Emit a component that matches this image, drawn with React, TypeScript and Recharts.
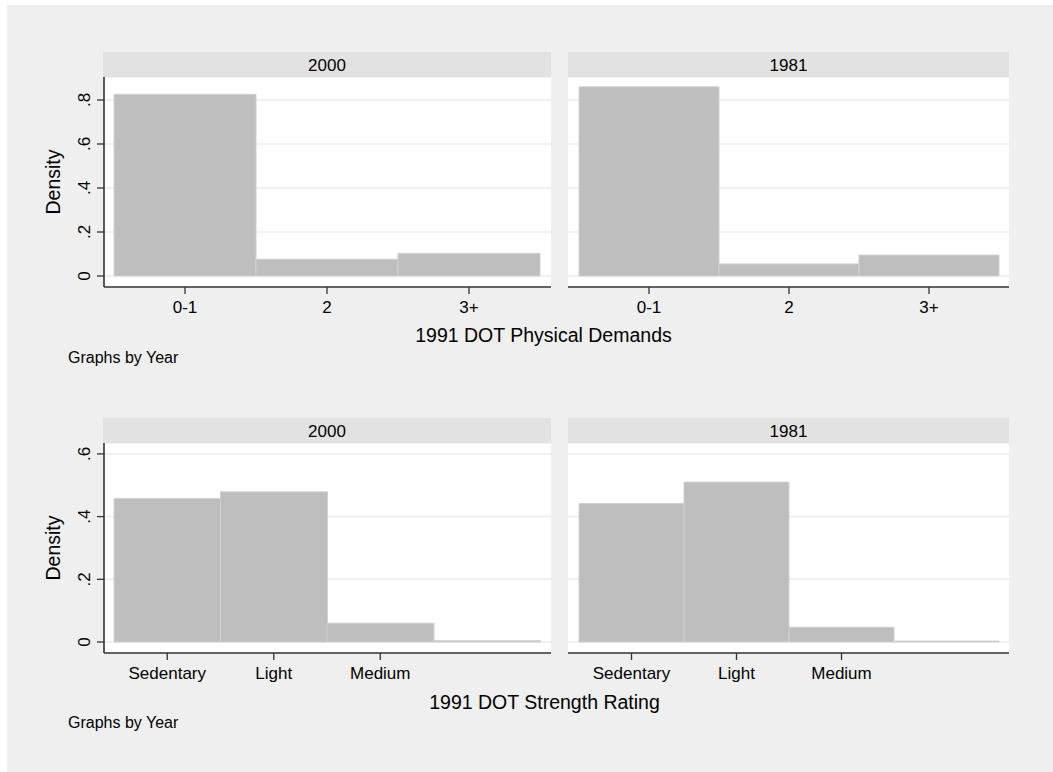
import React from "react";
import { BarChart, Bar, XAxis, YAxis, CartesianGrid } from "recharts";

// ---- data ----
const physCategories = ["0-1", "2", "3+"];
const phys2000 = [0.826, 0.076, 0.103];
const phys1981 = [0.860, 0.055, 0.095];

const strengthCategories = ["Sedentary", "Light", "Medium", ""];
const strength2000 = [0.458, 0.479, 0.060, 0.004];
const strength1981 = [0.442, 0.510, 0.047, 0.003];

const physYTicks = [0, 0.2, 0.4, 0.6, 0.8];
const strengthYTicks = [0, 0.2, 0.4, 0.6];

const panelYears = ["2000", "1981"];
const physTitle = "1991 DOT Physical Demands";
const strengthTitle = "1991 DOT Strength Rating";
const noteText = "Graphs by Year";
const yTitle = "Density";

// ---- style ----
const FONT = "'Liberation Sans', Arial, Helvetica, sans-serif";
const BG = "#efefef";
const STRIP = "#e2e2e2";
const BAR_FILL = "#bebebe";
const BAR_STROKE = "#d0d0d0";
const GRID = "#ececec";
const AXIS = "#333333";

const toRows = (cats: string[], vals: number[]) =>
  cats.map((c, i) => ({ cat: c, density: vals[i] }));

const fmtY = (v: number) => (v === 0 ? "0" : String(v).replace(/^0/, ""));

const XTick = (props: any) => {
  const { x, y, payload } = props;
  if (!payload || !payload.value) return <g />;
  return (
    <g>
      <line x1={x} y1={y - 7} x2={x} y2={y} stroke={AXIS} strokeWidth={1.3} />
      <text
        x={x}
        y={y + 19}
        textAnchor="middle"
        fontSize={17}
        fontFamily={FONT}
        fill="#000"
      >
        {payload.value}
      </text>
    </g>
  );
};

const YTick = (props: any) => {
  const { x, y, payload } = props;
  const bx = x - 7;
  return (
    <g>
      <line x1={x} y1={y} x2={x + 7} y2={y} stroke={AXIS} strokeWidth={1.3} />
      <text
        x={bx}
        y={y}
        transform={`rotate(-90, ${bx}, ${y})`}
        textAnchor="middle"
        fontSize={17}
        fontFamily={FONT}
        fill="#000"
      >
        {fmtY(payload.value)}
      </text>
    </g>
  );
};

type PanelProps = {
  left: number;
  top: number;
  plotWidth: number;
  withYAxis: boolean;
  data: { cat: string; density: number }[];
  domain: [number, number];
  ticks: number[];
  padL: number;
  padR: number;
};

const Panel = ({ left, top, plotWidth, withYAxis, data, domain, ticks, padL, padR }: PanelProps) => {
  const yW = withYAxis ? 50 : 0;
  const plotH = 210;
  const xH = 40;
  return (
    <div style={{ position: "absolute", left: left - yW, top }}>
      <BarChart
        width={yW + plotWidth}
        height={plotH + xH}
        data={data}
        margin={{ top: 0, right: 0, bottom: 0, left: 0 }}
        barCategoryGap={0}
        barGap={0}
      >
        <CartesianGrid
          vertical={false}
          stroke={GRID}
          strokeWidth={1.5}
          fill="#ffffff"
          fillOpacity={1}
        />
        <XAxis
          dataKey="cat"
          type="category"
          height={xH}
          padding={{ left: padL, right: padR }}
          axisLine={{ stroke: AXIS, strokeWidth: 1.6 }}
          tickLine={false}
          tickSize={7}
          tickMargin={0}
          interval={0}
          tick={<XTick />}
        />
        <YAxis
          type="number"
          domain={domain}
          ticks={ticks}
          allowDataOverflow
          width={yW}
          hide={!withYAxis}
          axisLine={{ stroke: AXIS, strokeWidth: 1.6 }}
          tickLine={false}
          tickSize={7}
          tickMargin={0}
          interval={0}
          tick={<YTick />}
        />
        <Bar
          dataKey="density"
          fill={BAR_FILL}
          stroke={BAR_STROKE}
          strokeWidth={1}
          isAnimationActive={false}
        />
      </BarChart>
    </div>
  );
};

export default function App() {
  const physDomain: [number, number] = [-0.05, 0.9045];
  const strDomain: [number, number] = [-0.0351, 0.6348];
  const txt = { fontFamily: FONT, fill: "#000" } as const;
  return (
    <div style={{ position: "absolute", left: 0, top: 0, width: 1053, height: 772, background: "#fff" }}>
      <div style={{ position: "absolute", left: 7, top: 5, width: 1046, height: 767, background: BG }} />
      {/* strips */}
      <div style={{ position: "absolute", left: 103, top: 52, width: 448, height: 25, background: STRIP }} />
      <div style={{ position: "absolute", left: 568, top: 52, width: 441, height: 25, background: STRIP }} />
      <div style={{ position: "absolute", left: 103, top: 418, width: 448, height: 25, background: STRIP }} />
      <div style={{ position: "absolute", left: 568, top: 418, width: 441, height: 25, background: STRIP }} />

      <Panel left={104} top={77} plotWidth={447} withYAxis data={toRows(physCategories, phys2000)} domain={physDomain} ticks={physYTicks} padL={10} padR={11} />
      <Panel left={568} top={77} plotWidth={441} withYAxis={false} data={toRows(physCategories, phys1981)} domain={physDomain} ticks={physYTicks} padL={11} padR={10} />
      <Panel left={104} top={443} plotWidth={447} withYAxis data={toRows(strengthCategories, strength2000)} domain={strDomain} ticks={strengthYTicks} padL={10} padR={11} />
      <Panel left={568} top={443} plotWidth={441} withYAxis={false} data={toRows(strengthCategories, strength1981)} domain={strDomain} ticks={strengthYTicks} padL={11} padR={10} />

      <svg width={1053} height={772} style={{ position: "absolute", left: 0, top: 0, pointerEvents: "none" }}>
        <text x={327} y={70.7} textAnchor="middle" fontSize={17} {...txt}>{panelYears[0]}</text>
        <text x={788.5} y={70.7} textAnchor="middle" fontSize={17} {...txt}>{panelYears[1]}</text>
        <text x={327} y={436.7} textAnchor="middle" fontSize={17} {...txt}>{panelYears[0]}</text>
        <text x={788.5} y={436.7} textAnchor="middle" fontSize={17} {...txt}>{panelYears[1]}</text>

        <text x={59.5} y={182} transform="rotate(-90, 59.5, 182)" textAnchor="middle" fontSize={19.5} {...txt}>{yTitle}</text>
        <text x={59.5} y={548} transform="rotate(-90, 59.5, 548)" textAnchor="middle" fontSize={19.5} {...txt}>{yTitle}</text>

        <text x={543.5} y={342.3} textAnchor="middle" fontSize={19.5} {...txt}>{physTitle}</text>
        <text x={544.5} y={709} textAnchor="middle" fontSize={19.5} {...txt}>{strengthTitle}</text>

        <text x={68} y={363} fontSize={16} {...txt}>{noteText}</text>
        <text x={68} y={728} fontSize={16} {...txt}>{noteText}</text>
      </svg>
    </div>
  );
}
